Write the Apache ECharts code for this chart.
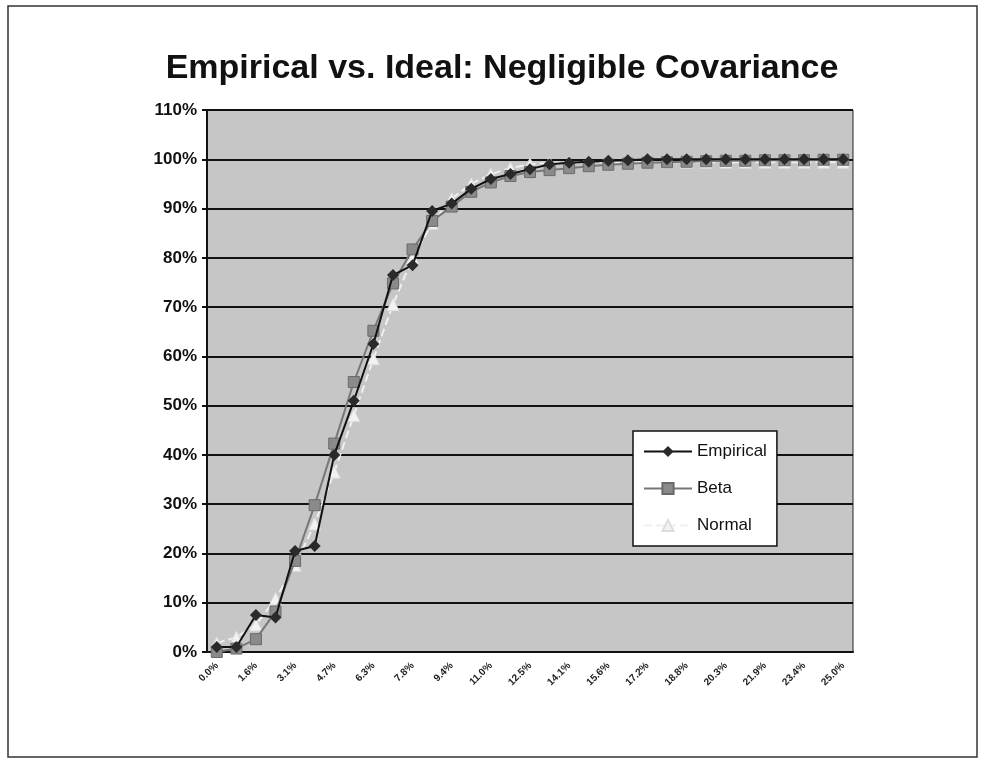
<!DOCTYPE html>
<html><head><meta charset="utf-8">
<script src="https://cdn.jsdelivr.net/npm/echarts@6/dist/echarts.min.js"></script>
<style>html,body{margin:0;padding:0;background:#fff}#c{width:983px;height:763px}</style>
</head><body><div id="c"></div>
<script>
var categories = ["0.0%","0.8%","1.6%","2.3%","3.1%","3.9%","4.7%","5.5%","6.3%","7.0%","7.8%","8.6%","9.4%","10.2%","11.0%","11.7%","12.5%","13.3%","14.1%","14.8%","15.6%","16.4%","17.2%","18.0%","18.8%","19.5%","20.3%","21.1%","21.9%","22.7%","23.4%","24.2%","25.0%"];
var empirical = [1,1,7.5,7,20.5,21.5,40,51,62.5,76.5,78.5,89.5,91,94,96,97,98,99,99.3,99.5,99.7,99.8,100,100,100,100,100,100,100,100,100,100,100];
var beta = [0,0.7,2.6,8.2,18.5,29.8,42.3,54.8,65.2,74.8,81.7,87.5,90.4,93.4,95.3,96.6,97.4,97.8,98.2,98.6,98.9,99.1,99.3,99.4,99.5,99.6,99.7,99.7,99.8,99.8,99.8,99.9,99.9];
var normal = [1.8,3,5.5,10.8,17.6,26,36.5,48,59.5,70.5,80,87,92,95,97,98.2,99,99.3,99.4,99.4,99.4,99.4,99.4,99.4,99.4,99.4,99.4,99.4,99.4,99.4,99.4,99.4,99.4];
var yTicks = [0,10,20,30,40,50,60,70,80,90,100,110];

var chart = echarts.init(document.getElementById('c'), null, {renderer:'canvas'});
chart.setOption({
  backgroundColor:'#ffffff',
  animation:false,
  title:{text:'Empirical vs. Ideal: Negligible Covariance', left:497, top:47, textAlign:'center',
    textStyle:{fontFamily:'Liberation Sans, Arial', fontWeight:'bold', fontSize:34, color:'#111'}},
  graphic:[{type:'rect', shape:{x:8,y:6,width:969,height:751}, style:{fill:'none', stroke:'#333', lineWidth:1.5}, z:-10}],
  grid:{left:207, right:130, top:110, bottom:111, show:true, backgroundColor:'#c6c6c6', borderColor:'#222', borderWidth:1},
  legend:{orient:'vertical', left:633, top:431, padding:[12,10,12,10], itemGap:20, itemWidth:48, itemHeight:14,
    backgroundColor:'#ffffff', borderColor:'#111', borderWidth:1.5,
    textStyle:{fontFamily:'Liberation Sans, Arial', fontSize:17, color:'#111'},
    data:['Empirical','Beta','Normal']},
  xAxis:{type:'category', data:categories, boundaryGap:true,
    axisLine:{lineStyle:{color:'#111', width:2}},
    axisTick:{interval:0, length:5, lineStyle:{color:'#111', width:2}},
    axisLabel:{interval:1, rotate:45, fontSize:10, fontWeight:'bold', color:'#222', fontFamily:'Liberation Sans, Arial', margin:12}},
  yAxis:{type:'value', min:0, max:110, interval:10,
    axisLine:{show:true, lineStyle:{color:'#111', width:2}},
    axisTick:{show:true, length:5, lineStyle:{color:'#111', width:2}},
    splitLine:{lineStyle:{color:'#111', width:2}},
    axisLabel:{formatter:'{value}%', fontSize:17, fontWeight:'bold', color:'#111', fontFamily:'Liberation Sans, Arial', margin:10}},
  series:[
    {name:'Normal', type:'line', data:normal, symbol:'triangle', symbolSize:12, z:3,
      lineStyle:{color:'#f0f0f0', width:2, type:'dashed'}, itemStyle:{color:'#f2f2f2', borderColor:'#dddddd', borderWidth:1}},
    {name:'Beta', type:'line', data:beta, symbol:'rect', symbolSize:11, z:4,
      lineStyle:{color:'#777', width:2}, itemStyle:{color:'#8a8a8a', borderColor:'#6a6a6a', borderWidth:1}},
    {name:'Empirical', type:'line', data:empirical, symbol:'diamond', symbolSize:12, z:5,
      lineStyle:{color:'#111', width:2}, itemStyle:{color:'#2a2a2a'}}
  ]
});
</script></body></html>
